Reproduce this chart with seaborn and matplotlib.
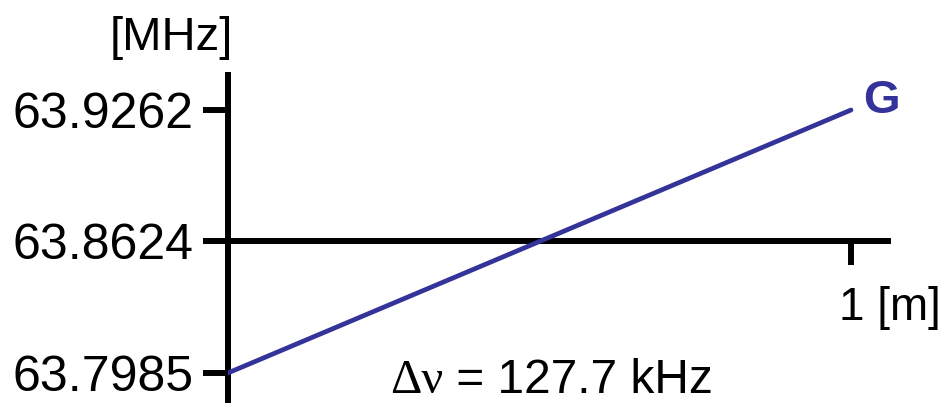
import matplotlib
matplotlib.use("Agg")
import matplotlib.pyplot as plt
import seaborn as sns
import pandas as pd

# Frequency along the gradient axis
position_m = [0.0, 1.0]
frequency_mhz = [63.7985, 63.9262]
ytick_values = [63.7985, 63.8624, 63.9262]
ytick_labels = ["63.7985", "63.8624", "63.9262"]
center_mhz = 63.8624
bandwidth_khz = 127.7
gradient_label = "G"

sns.set_style("ticks")
plt.rcParams["font.family"] = ["Liberation Sans", "DejaVu Sans"]
plt.rcParams["text.color"] = "black"
plt.rcParams["xtick.color"] = "black"
plt.rcParams["ytick.color"] = "black"
plt.rcParams["xtick.labelcolor"] = "black"
plt.rcParams["ytick.labelcolor"] = "black"

W, H, DPI = 943, 403, 100
fig = plt.figure(figsize=(W / DPI, H / DPI), dpi=DPI)
ax = fig.add_axes([228 / W, 0.0, (888 - 228) / W, (403 - 75) / H])

df = pd.DataFrame({"x": position_m, "f": frequency_mhz})
sns.lineplot(data=df, x="x", y="f", ax=ax, color="#333399", linewidth=3.4,
             zorder=3)

ax.set_xlim(0, 1.0594)
ax.set_ylim(63.7839, 63.9432)

for side in ("top", "right"):
    ax.spines[side].set_visible(False)
ax.spines["bottom"].set_position(("data", center_mhz))
for side in ("left", "bottom"):
    ax.spines[side].set_linewidth(4.3)
    ax.spines[side].set_color("black")
    ax.spines[side].set_zorder(2)

ax.set_yticks(ytick_values)
ax.set_yticklabels(ytick_labels, fontsize=36, color="black")
ax.tick_params(axis="y", direction="out", length=18, width=4.3, pad=7,
               color="black")
ax.set_xticks([1.0])
ax.set_xticklabels([""])
ax.tick_params(axis="x", direction="out", length=17, width=4.3,
               color="black")
ax.set_xlabel("")
ax.set_ylabel("")

# x-axis unit label beside the 1 m tick
ax.annotate("1 [m]", xy=(1.0, center_mhz), xytext=(-12, -79),
            textcoords="offset pixels", ha="left", va="baseline",
            fontsize=33, color="black", annotation_clip=False)

# gradient label at the end of the line
ax.annotate(gradient_label, xy=(position_m[-1], frequency_mhz[-1]),
            xytext=(12, -3), textcoords="offset pixels", ha="left",
            va="baseline", fontsize=34, fontweight="bold", color="#333399")

# bandwidth annotation
t1 = ax.text(0.26, 63.7886, "\u0394\u03bd", fontsize=35,
             family=["Liberation Serif", "DejaVu Serif"],
             ha="left", va="baseline", color="black")
ax.annotate(" = %.1f kHz" % bandwidth_khz, xy=(1, 0), xycoords=t1,
            ha="left", va="bottom", fontsize=34.5, color="black")

# axis unit
fig.text(233 / W, 1 - 50 / H, "[MHz]", ha="right", va="baseline",
         fontsize=34, color="black")

fig.savefig("out.png", dpi=DPI)
